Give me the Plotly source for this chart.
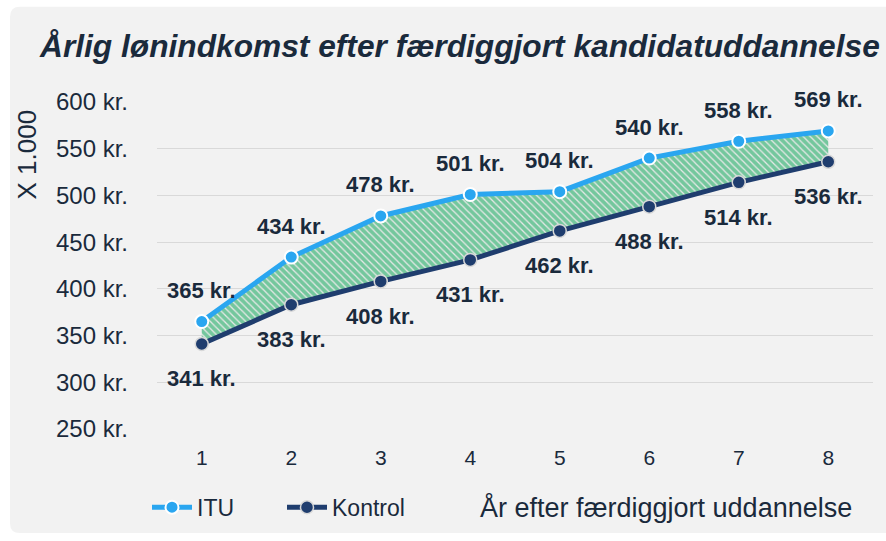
import plotly.graph_objects as go

years = [1, 2, 3, 4, 5, 6, 7, 8]
itu = [365, 434, 478, 501, 504, 540, 558, 569]
kontrol = [341, 383, 408, 431, 462, 488, 514, 536]
y_ticks = [250, 300, 350, 400, 450, 500, 550, 600]
y_ticklabels = [f"{v} kr." for v in y_ticks]

ITU_C = "#2aa6f0"
KON_C = "#1f3d6e"
TXT = "#1a2a3c"
FONT = "Liberation Sans, Arial, sans-serif"

W, H = 886, 541


def px_x(p):  # reference pixel -> paper x
    return (p - 157) / 716


def px_y(p):  # reference pixel -> paper y
    return (432 - p) / 330


fig = go.Figure()

# fill band (helper traces)
fig.add_trace(go.Scatter(x=years, y=kontrol, mode="lines", line=dict(width=0),
                         showlegend=False, hoverinfo="skip"))
fig.add_trace(go.Scatter(x=years, y=itu, mode="lines", line=dict(width=0),
                         fill="tonexty", fillcolor="#e8e8e8",
                         fillpattern=dict(shape="\\", fgcolor="#00a651", bgcolor="#e8e8e8",
                                          size=5, solidity=0.75),
                         showlegend=False, hoverinfo="skip"))

fig.add_trace(go.Scatter(x=years, y=itu, mode="lines+markers", name="ITU",
                         line=dict(color=ITU_C, width=5),
                         marker=dict(size=13, color=ITU_C, line=dict(color="white", width=2))))
fig.add_trace(go.Scatter(x=years, y=kontrol, mode="lines+markers", name="Kontrol",
                         line=dict(color=KON_C, width=5),
                         marker=dict(size=13, color=KON_C, line=dict(color="#d8d8d8", width=1.5))))

annotations = []
for x, v in zip(years, itu):
    annotations.append(dict(x=x, y=v, xref="x", yref="y", text=f"<b>{v} kr.</b>", showarrow=False,
                            yshift=31, font=dict(family=FONT, size=22, color=TXT)))
for x, v in zip(years, kontrol):
    annotations.append(dict(x=x, y=v, xref="x", yref="y", text=f"<b>{v} kr.</b>", showarrow=False,
                            yshift=-35, font=dict(family=FONT, size=22, color=TXT)))

# title
annotations.append(dict(x=px_x(37), y=px_y(45), xref="paper", yref="paper", showarrow=False,
                        xanchor="left", yanchor="middle",
                        text="<b><i>Årlig lønindkomst efter færdiggjort kandidatuddannelse</i></b>",
                        font=dict(family=FONT, size=31.7, color=TXT)))
# y title
annotations.append(dict(x=px_x(27), y=px_y(155), xref="paper", yref="paper", showarrow=False,
                        textangle=-90, xanchor="center", yanchor="middle", text="X 1.000",
                        font=dict(family=FONT, size=26, color=TXT)))
# x title
annotations.append(dict(x=px_x(666), y=px_y(511), xref="paper", yref="paper",
                        showarrow=False, xanchor="center", yanchor="middle",
                        text="År efter færdiggjort uddannelse",
                        font=dict(family=FONT, size=27, color=TXT)))

# background panel with rounded corners
x0, x1, y0, y1 = 10, 900, 6, 537
r = 10
path = (f"M {px_x(x0 + r)},{px_y(y0)} L {px_x(x1)},{px_y(y0)} L {px_x(x1)},{px_y(y1)} "
        f"L {px_x(x0 + r)},{px_y(y1)} Q {px_x(x0)},{px_y(y1)} {px_x(x0)},{px_y(y1 - r)} "
        f"L {px_x(x0)},{px_y(y0 + r)} Q {px_x(x0)},{px_y(y0)} {px_x(x0 + r)},{px_y(y0)} Z")

fig.update_layout(
    width=W, height=H,
    margin=dict(l=157, r=13, t=102, b=109),
    paper_bgcolor="white",
    plot_bgcolor="rgba(0,0,0,0)",
    font=dict(family=FONT, color=TXT),
    shapes=[dict(type="path", path=path, xref="paper", yref="paper",
                 fillcolor="#f2f2f2", line=dict(width=0), layer="below")],
    annotations=annotations,
    showlegend=True,
    legend=dict(orientation="h", x=px_x(147), y=px_y(511), xanchor="left", yanchor="middle",
                traceorder="normal", entrywidth=80,
                font=dict(family=FONT, size=23, color=TXT), bgcolor="rgba(0,0,0,0)",
                itemwidth=40),
    xaxis=dict(range=[0.5, 8.5], tickvals=years, ticktext=[str(v) for v in years],
               showgrid=False, zeroline=False, showline=False, ticks="",
               ticklabelstandoff=14,
               tickfont=dict(family=FONT, size=21, color=TXT)),
    yaxis=dict(range=[250, 600], tickvals=y_ticks, ticktext=y_ticklabels,
               showgrid=True, gridcolor="#d9d9d9", gridwidth=1, zeroline=False,
               showline=False, ticks="", ticklabelstandoff=28,
               tickfont=dict(family=FONT, size=24, color=TXT)),
)

fig.write_html("out.html", config={"displayModeBar": False},
               post_script="document.body.style.margin='0';document.body.style.overflow='hidden';")
